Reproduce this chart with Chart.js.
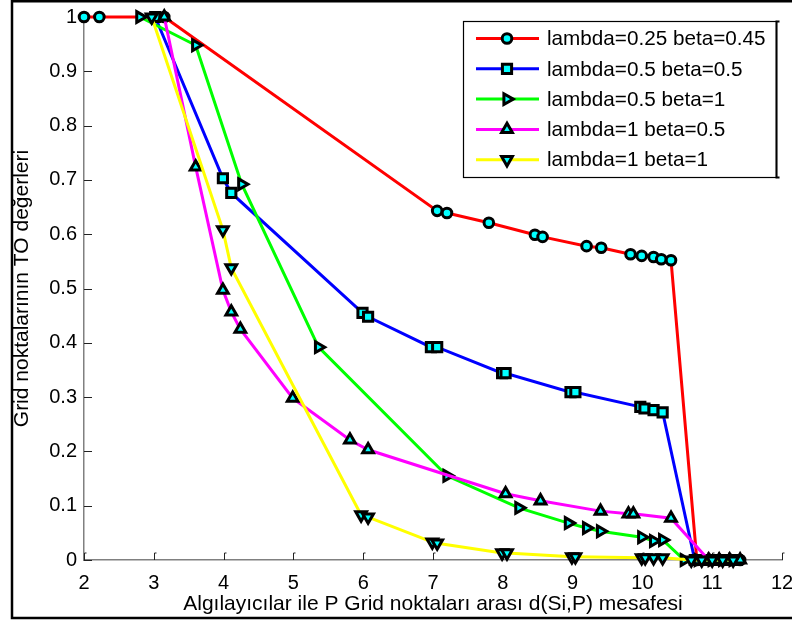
<!DOCTYPE html>
<html><head><meta charset="utf-8">
<script src="https://cdn.jsdelivr.net/npm/chart.js@4.4.1/dist/chart.umd.min.js"></script>
<style>html,body{margin:0;padding:0;background:#fff}</style>
</head><body>
<canvas id="c" width="792" height="623"></canvas>
<script>
// ---- data ----
const seriesLabels = ['lambda=0.25 beta=0.45','lambda=0.5 beta=0.5','lambda=0.5 beta=1','lambda=1 beta=0.5','lambda=1 beta=1'];

const redX = [2, 2.22, 3.15, 7.06, 7.2, 7.8, 8.46, 8.57, 9.2, 9.41, 9.83, 9.99, 10.16, 10.27, 10.41, 10.78, 10.95, 11.1, 11.25, 11.4];
const redY = [1, 1, 1, 0.643, 0.639, 0.621, 0.599, 0.595, 0.578, 0.575, 0.563, 0.560, 0.558, 0.554, 0.552, 0, 0, 0, 0, 0];

const blueX = [3.02, 3.99, 4.11, 5.99, 6.07, 6.97, 7.06, 7.99, 8.04, 8.97, 9.04, 9.97, 10.03, 10.16, 10.29, 10.75, 10.9, 11.05, 11.2, 11.35];
const blueY = [1, 0.703, 0.676, 0.455, 0.448, 0.392, 0.392, 0.344, 0.344, 0.309, 0.309, 0.282, 0.279, 0.276, 0.272, 0, 0, 0, 0, 0];

const greenX = [2.8, 3.6, 4.26, 5.36, 7.2, 8.23, 8.94, 9.2, 9.4, 9.99, 10.16, 10.29, 10.6, 10.8, 11.0, 11.15, 11.3];
const greenY = [1, 0.948, 0.692, 0.392, 0.155, 0.096, 0.068, 0.059, 0.053, 0.042, 0.035, 0.037, 0, 0, 0, 0, 0];

const magentaX = [3.15, 3.6, 3.99, 4.11, 4.24, 4.99, 5.81, 6.07, 8.04, 8.54, 9.4, 9.8, 9.87, 10.41, 10.95, 11.1, 11.25, 11.4];
const magentaY = [1, 0.724, 0.497, 0.457, 0.425, 0.298, 0.221, 0.203, 0.122, 0.109, 0.090, 0.085, 0.085, 0.077, 0, 0, 0, 0];

const yellowX = [2.97, 3.99, 4.11, 5.97, 6.07, 6.99, 7.06, 7.99, 8.06, 8.99, 9.04, 9.99, 10.04, 10.16, 10.29, 10.7, 10.85, 11.0, 11.15, 11.3];
const yellowY = [1, 0.608, 0.538, 0.083, 0.079, 0.033, 0.031, 0.013, 0.013, 0.006, 0.006, 0.004, 0.004, 0.004, 0.004, 0, 0, 0, 0, 0];

const xTickValues = [2,3,4,5,6,7,8,9,10,11,12];
const xTickLabels = ['2','3','4','5','6','7','8','9','10','11','12'];
const yTickValues = [0,0.1,0.2,0.3,0.4,0.5,0.6,0.7,0.8,0.9,1];
const yTickLabels = ['0','0.1','0.2','0.3','0.4','0.5','0.6','0.7','0.8','0.9','1'];

const xTitle = 'Algılayıcılar ile P Grid noktaları arası d(Si,P) mesafesi';
const yTitle = 'Grid noktalarının TO değerleri';

// ---- build ----
const FONT = 'Liberation Sans, Arial, sans-serif';
const zip = (xs, ys) => xs.map((x, i) => ({x, y: ys[i]}));
function mk(label, xs, ys, color, style, rot, r, order) {
  return {
    label, data: zip(xs, ys), showLine: true,
    borderColor: color, borderWidth: 3,
    pointStyle: style, pointRotation: rot, pointRadius: r, pointHoverRadius: r,
    pointBackgroundColor: '#00FFFF', pointBorderColor: '#000', pointBorderWidth: 3,
    clip: false, order
  };
}
const datasets = [
  mk(seriesLabels[0], redX, redY, '#FF0000', 'circle', 0, 4.8, 5),
  mk(seriesLabels[1], blueX, blueY, '#0000FF', 'rect', 0, 6.5, 4),
  mk(seriesLabels[2], greenX, greenY, '#00FF00', 'triangle', 90, 6.2, 3),
  mk(seriesLabels[3], magentaX, magentaY, '#FF00FF', 'triangle', 0, 6.2, 2),
  mk(seriesLabels[4], yellowX, yellowY, '#FFFF00', 'triangle', 180, 6.2, 1)
];

const decor = {
  id: 'decor',
  beforeDraw(chart) {
    const ctx = chart.ctx;
    ctx.save();
    ctx.fillStyle = '#fff';
    ctx.fillRect(0, 0, chart.width, chart.height);
    ctx.restore();
  },
  beforeDatasetsDraw(chart) {
    const ctx = chart.ctx, xs = chart.scales.x, ys = chart.scales.y;
    ctx.save();
    ctx.strokeStyle = '#222'; ctx.lineWidth = 1;
    yTickValues.forEach(v => {
      const py = Math.round(ys.getPixelForValue(v)) + 0.5;
      ctx.beginPath(); ctx.moveTo(xs.left, py); ctx.lineTo(xs.left + 8, py); ctx.stroke();
    });
    xTickValues.forEach(v => {
      const px = Math.round(xs.getPixelForValue(v)) + 0.5;
      const b = ys.bottom;
      ctx.beginPath(); ctx.moveTo(px, b); ctx.lineTo(px, b - 7); ctx.lineTo(px + 2, b - 7); ctx.stroke();
    });
    ctx.restore();
  },
  afterDraw(chart) {
    const ctx = chart.ctx;
    ctx.save();
    ctx.strokeStyle = '#000'; ctx.lineWidth = 2.5;
    ctx.beginPath();
    ctx.moveTo(800, 1.2); ctx.lineTo(12, 1.2); ctx.lineTo(12, 618); ctx.lineTo(800, 618);
    ctx.stroke();
    const bx = 463.5, by = 21.5, bw = 313, bh = 156;
    ctx.fillStyle = '#fff'; ctx.fillRect(bx, by, bw, bh);
    ctx.strokeStyle = '#000'; ctx.lineWidth = 1.2; ctx.strokeRect(bx, by, bw, bh);
    ctx.lineWidth = 2;
    ctx.beginPath(); ctx.moveTo(bx + bw + 3, by); ctx.lineTo(bx + bw, by); ctx.lineTo(bx + bw, by + bh); ctx.lineTo(bx + bw + 3, by + bh); ctx.stroke();
    chart.data.datasets.forEach((ds, i) => {
      const y = 38.5 + i * 30.3;
      ctx.strokeStyle = ds.borderColor; ctx.lineWidth = 3;
      ctx.beginPath(); ctx.moveTo(476, y); ctx.lineTo(539, y); ctx.stroke();
      ctx.fillStyle = ds.pointBackgroundColor; ctx.strokeStyle = ds.pointBorderColor; ctx.lineWidth = ds.pointBorderWidth;
      Chart.helpers.drawPoint(ctx, {pointStyle: ds.pointStyle, rotation: ds.pointRotation, radius: ds.pointRadius, borderWidth: ds.pointBorderWidth}, 507, y);
      ctx.fillStyle = '#000'; ctx.font = '20.7px ' + FONT; ctx.textBaseline = 'middle'; ctx.textAlign = 'left';
      ctx.fillText(ds.label, 547, y + 1);
    });
    ctx.restore();
  }
};

new Chart(document.getElementById('c'), {
  type: 'scatter',
  data: { datasets },
  options: {
    responsive: false, devicePixelRatio: 1, animation: false,
    layout: { padding: { top: 17, right: 10, left: 0, bottom: 0 } },
    plugins: { legend: { display: false }, tooltip: { enabled: false } },
    scales: {
      x: {
        type: 'linear', min: 2, max: 12,
        afterBuildTicks: s => { s.ticks = xTickValues.map(v => ({value: v})); },
        afterFit: s => { s.height = 63; s.paddingLeft = 0; s.paddingRight = 0; },
        grid: { display: false, drawTicks: false },
        border: { display: true, color: '#808080', width: 1.5 },
        ticks: { padding: 11, color: '#000', font: { family: FONT, size: 20 }, maxRotation: 0,
                 callback: (v, i) => xTickLabels[i] },
        title: { display: true, text: xTitle, color: '#000', font: { family: FONT, size: 21 }, padding: { top: 0, bottom: 6 } }
      },
      y: {
        type: 'linear', min: 0, max: 1,
        afterBuildTicks: s => { s.ticks = yTickValues.map(v => ({value: v})); },
        afterFit: s => { s.width = 84; s.paddingTop = 0; s.paddingBottom = 0; },
        grid: { display: false, drawTicks: false },
        border: { display: true, color: '#808080', width: 1.5 },
        ticks: { padding: 7, color: '#000', font: { family: FONT, size: 20 },
                 callback: (v, i) => yTickLabels[i] },
        title: { display: true, text: yTitle, color: '#000', font: { family: FONT, size: 21 }, padding: { top: 10, bottom: 0 } }
      }
    }
  },
  plugins: [decor]
});
</script>
</body></html>
